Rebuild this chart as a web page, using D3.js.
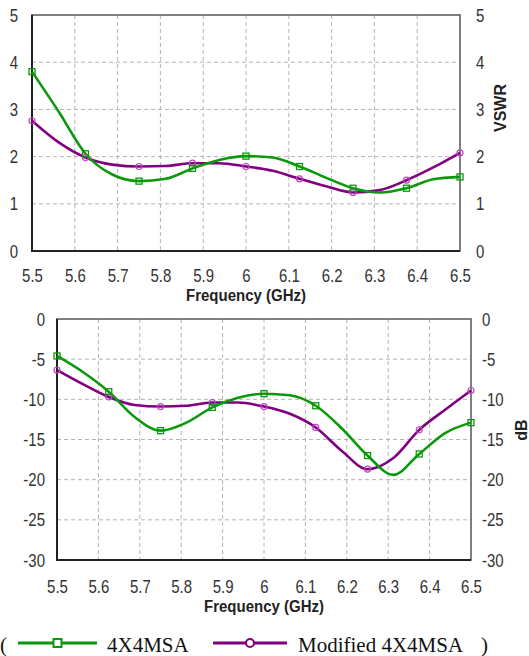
<!DOCTYPE html>
<html>
<head>
<meta charset="utf-8">
<script src="https://cdn.jsdelivr.net/npm/d3@7"></script>
<style>
  body { margin: 0; background: #fff; }
  svg { display: block; }
</style>
</head>
<body>
<svg id="chart"></svg>
<script>
// frequency samples (GHz), markers every other sample
const freq = [5.5, 5.5625, 5.625, 5.6875, 5.75, 5.8125, 5.875, 5.9375, 6.0,
              6.0625, 6.125, 6.1875, 6.25, 6.3125, 6.375, 6.4375, 6.5];
const markerFreq = [5.5, 5.625, 5.75, 5.875, 6.0, 6.125, 6.25, 6.375, 6.5];

const vswr4x4 = [3.80, 2.95, 2.06, 1.62, 1.48, 1.53, 1.75, 1.93, 2.01,
                 1.98, 1.79, 1.55, 1.33, 1.24, 1.33, 1.52, 1.57];
const vswrMod = [2.76, 2.30, 1.98, 1.83, 1.79, 1.80, 1.86, 1.86, 1.79,
                 1.70, 1.53, 1.37, 1.24, 1.29, 1.50, 1.77, 2.08];

const s11_4x4 = [-4.6, -6.6, -9.05, -12.2, -13.9, -12.9, -11.0, -9.8, -9.3,
                 -9.5, -10.8, -13.6, -17.0, -19.4, -16.8, -14.2, -12.9];
const s11Mod  = [-6.35, -8.1, -9.7, -10.7, -10.9, -10.8, -10.4, -10.4, -10.9,
                 -11.8, -13.5, -16.4, -18.7, -17.3, -13.8, -11.3, -8.9];

const xTicks = [5.5, 5.6, 5.7, 5.8, 5.9, 6.0, 6.1, 6.2, 6.3, 6.4, 6.5];
const vswrTicks = [0, 1, 2, 3, 4, 5];
const dbTicks = [0, -5, -10, -15, -20, -25, -30];
const seriesNames = ["4X4MSA", "Modified 4X4MSA"];

const green = "#0b990b", purple = "#800080", purpleMark = "#c044c0";

const svg = d3.select("#chart").attr("width", 529).attr("height", 656);

function panel(o) {
    const x = d3.scaleLinear().domain([5.5, 6.5]).range([o.left, o.right]);
    const y = d3.scaleLinear().domain(o.yDomain).range([o.bottom, o.top]);
    const g = svg.append("g");

    // dashed grid
    g.append("g").selectAll("line").data(xTicks.slice(1, -1)).enter().append("line")
        .attr("x1", d => x(d)).attr("x2", d => x(d))
        .attr("y1", o.top).attr("y2", o.bottom);
    g.append("g").selectAll("line").data(o.yTicks.filter(d => d !== o.yDomain[0] && d !== o.yDomain[1]))
        .enter().append("line")
        .attr("x1", o.left).attr("x2", o.right)
        .attr("y1", d => y(d)).attr("y2", d => y(d));
    g.selectAll("g line").attr("stroke", "#b4b4b4").attr("stroke-width", 1)
        .attr("stroke-dasharray", "4,3");

    // frame
    g.append("rect").attr("x", o.left).attr("y", o.top)
        .attr("width", o.right - o.left).attr("height", o.bottom - o.top)
        .attr("fill", "none").attr("stroke", "#555").attr("stroke-width", 1.5);
    g.append("path")
        .attr("d", `M${o.left},${o.top}V${o.bottom}H${o.right}`)
        .attr("fill", "none").attr("stroke", "#222").attr("stroke-width", 2);

    // axes
    const fmt = d => String(d);
    const styleText = sel => sel.selectAll("text")
        .attr("fill", "#333").attr("font-size", 15)
        .attr("font-family", "Liberation Sans, Arial, sans-serif");

    const ax = g.append("g").attr("transform", `translate(0,${o.bottom})`)
        .call(d3.axisBottom(x).tickValues(xTicks).tickSize(0).tickFormat(fmt));
    ax.select(".domain").remove();
    styleText(ax);
    ax.selectAll("text").attr("y", null).attr("dy", null)
        .attr("transform", `translate(0,${o.xLabelOff}) scale(1,1.18)`);

    const ayl = g.append("g").attr("transform", `translate(${o.left},0)`)
        .call(d3.axisLeft(y).tickValues(o.yTicks).tickSize(0).tickFormat(fmt));
    ayl.select(".domain").remove();
    styleText(ayl);
    ayl.selectAll("text").attr("x", null).attr("dy", null)
        .attr("transform", `translate(${-o.leftOff},6) scale(1,1.18)`);

    const ayr = g.append("g").attr("transform", `translate(${o.right},0)`)
        .call(d3.axisRight(y).tickValues(o.yTicks).tickSize(0).tickFormat(fmt));
    ayr.select(".domain").remove();
    styleText(ayr);
    ayr.selectAll("text").attr("x", null).attr("dy", null)
        .attr("transform", `translate(${o.rightOff},6) scale(1,1.18)`);

    // titles
    g.append("text")
        .attr("transform", `translate(${(o.left + o.right) / 2},${o.titleY}) scale(1,1.15)`)
        .attr("text-anchor", "middle").attr("font-weight", "bold").attr("font-size", 15)
        .attr("font-family", "Liberation Sans, Arial, sans-serif").attr("fill", "#222")
        .text("Frequency (GHz)");
    g.append("text")
        .attr("transform", `translate(${o.yTitleX},${o.yTitleY}) rotate(-90)`)
        .attr("text-anchor", "middle").attr("font-weight", "bold").attr("font-size", 16)
        .attr("font-family", "Liberation Sans, Arial, sans-serif").attr("fill", "#222")
        .text(o.yTitle);

    // series
    const line = d3.line().x((d, i) => x(freq[i])).y(d => y(d)).curve(d3.curveMonotoneX);
    const marks = vals => freq.map((f, i) => ({ f, v: vals[i] }))
        .filter(p => markerFreq.includes(p.f));

    [[o.series[1], purple], [o.series[0], green]].forEach(([vals, col]) => {
        g.append("path").datum(vals).attr("d", line)
            .attr("fill", "none").attr("stroke", col).attr("stroke-width", 2.6);
    });

    g.append("g").selectAll("circle").data(marks(o.series[1])).enter().append("circle")
        .attr("cx", d => x(d.f)).attr("cy", d => y(d.v)).attr("r", 3)
        .attr("fill", "none").attr("stroke", purpleMark).attr("stroke-width", 1.2);
    g.append("g").selectAll("rect").data(marks(o.series[0])).enter().append("rect")
        .attr("x", d => x(d.f) - 3).attr("y", d => y(d.v) - 3)
        .attr("width", 6).attr("height", 6)
        .attr("fill", "none").attr("stroke", green).attr("stroke-width", 1.3);
}

panel({
    left: 32, right: 460, top: 15, bottom: 251,
    yDomain: [0, 5], yTicks: vswrTicks,
    leftOff: 14, rightOff: 16, xLabelOff: 31, titleY: 301,
    yTitle: "VSWR", yTitleX: 506, yTitleY: 108,
    series: [vswr4x4, vswrMod]
});

panel({
    left: 57, right: 471, top: 319, bottom: 560,
    yDomain: [-30, 0], yTicks: dbTicks,
    leftOff: 12, rightOff: 11, xLabelOff: 33, titleY: 612,
    yTitle: "dB", yTitleX: 527, yTitleY: 430,
    series: [s11_4x4, s11Mod]
});

// legend
const leg = svg.append("g").attr("font-family", "Liberation Serif, Times New Roman, serif")
    .attr("font-size", 21).attr("fill", "#111");
leg.append("text").attr("x", 0).attr("y", 652).text("(");
leg.append("text").attr("x", 481).attr("y", 652).text(")");
const legItems = [
    { name: seriesNames[0], col: green, x1: 18, x2: 97, tx: 107 },
    { name: seriesNames[1], col: purple, x1: 213, x2: 287, tx: 298 }
];
legItems.forEach((d, i) => {
    leg.append("line").attr("x1", d.x1).attr("x2", d.x2).attr("y1", 643).attr("y2", 643)
        .attr("stroke", d.col).attr("stroke-width", 3);
    const cx = (d.x1 + d.x2) / 2;
    if (i === 0) {
        leg.append("rect").attr("x", cx - 4).attr("y", 639).attr("width", 8).attr("height", 8)
            .attr("fill", "#fff").attr("stroke", d.col).attr("stroke-width", 2);
    } else {
        leg.append("circle").attr("cx", cx).attr("cy", 643).attr("r", 4)
            .attr("fill", "#fff").attr("stroke", d.col).attr("stroke-width", 2);
    }
    leg.append("text").attr("x", d.tx).attr("y", 652).text(d.name);
});
</script>
</body>
</html>
